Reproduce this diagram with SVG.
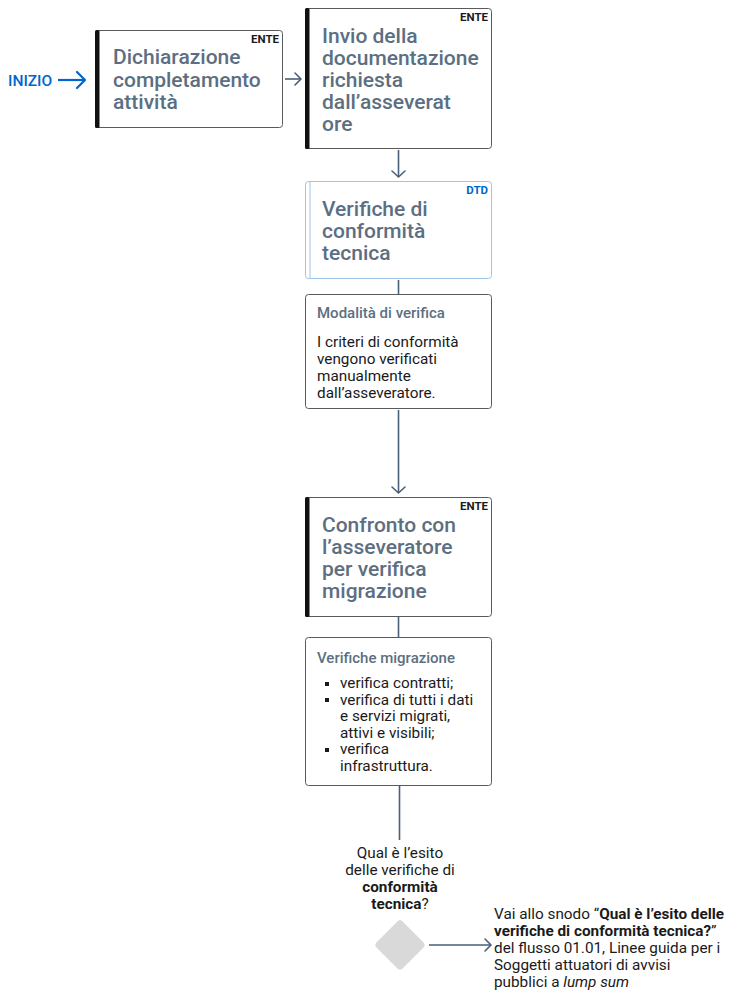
<svg xmlns="http://www.w3.org/2000/svg" width="732" height="992" viewBox="0 0 732 992">
<defs>
<style>
.box{fill:#fff;stroke:#5a5a5a;stroke-width:1}
.bar{fill:#111}
.title{font-family:Roboto,"Liberation Sans",sans-serif;font-size:21px;font-weight:500;fill:#5c6f82}
.tag{font-family:Roboto,"Liberation Sans",sans-serif;font-size:11.5px;font-weight:700;fill:#1a1a1a}
.head{font-family:Roboto,"Liberation Sans",sans-serif;font-size:15px;font-weight:500;fill:#5c6f82}
.body{font-family:Roboto,"Liberation Sans",sans-serif;font-size:15.3px;fill:#1a1a1a}
.conn{stroke:#4a5f78;stroke-width:1.6;fill:none}
.head-ar{stroke:#4a5f78;stroke-width:1.6;fill:none;stroke-linecap:round;stroke-linejoin:round}
</style>
</defs>

<g id="start">
<text x="8" y="86" font-family="Roboto,'Liberation Sans',sans-serif" font-size="15.5px" font-weight="500" fill="#0066cc">INIZIO</text>
<line x1="58" y1="80" x2="85" y2="80" stroke="#0066cc" stroke-width="2.2"/>
<polyline points="77,72 85,80 77,88" fill="none" stroke="#0066cc" stroke-width="2.2" stroke-linecap="round" stroke-linejoin="round"/>
</g>

<g id="connectors">
<line class="conn" x1="285" y1="79" x2="301" y2="79"/>
<polyline class="head-ar" points="295,73 301,79 295,85"/>
<line class="conn" x1="398.5" y1="150" x2="398.5" y2="177"/>
<polyline class="head-ar" points="392,171 398.5,177 405,171"/>
<line class="conn" x1="398.5" y1="280" x2="398.5" y2="294"/>
<line class="conn" x1="398.5" y1="410" x2="398.5" y2="493"/>
<polyline class="head-ar" points="392,487 398.5,493 405,487"/>
<line class="conn" x1="398.5" y1="617" x2="398.5" y2="637"/>
<line class="conn" x1="399.5" y1="786" x2="399.5" y2="840"/>
<line class="conn" x1="429" y1="945" x2="491" y2="945"/>
<polyline class="head-ar" points="485,939 491,945 485,951"/>
</g>

<g id="n1">
<rect class="box" x="95.5" y="30.5" width="187" height="97" rx="3"/>
<rect class="bar" x="95" y="30" width="4.5" height="98" rx="1.5"/>
<text class="tag" x="279" y="43" text-anchor="end">ENTE</text>
<text class="title" x="113" y="64">Dichiarazione</text>
<text class="title" x="113" y="87">completamento</text>
<text class="title" x="113" y="109">attività</text>
</g>

<g id="n2">
<rect class="box" x="305.5" y="8.5" width="186" height="140" rx="3"/>
<rect class="bar" x="305" y="8" width="4.5" height="141" rx="1.5"/>
<text class="tag" x="488" y="21" text-anchor="end">ENTE</text>
<text class="title" x="322" y="43">Invio della</text>
<text class="title" x="322" y="65">documentazione</text>
<text class="title" x="322" y="87">richiesta</text>
<text class="title" x="322" y="109">dall’asseverat</text>
<text class="title" x="322" y="131">ore</text>
</g>

<g id="n3">
<rect x="305.5" y="181.5" width="186" height="97" rx="3" fill="#fff" stroke="#9fc3ea" stroke-width="1"/>
<line x1="310" y1="182" x2="310" y2="278" stroke="#9fc3ea" stroke-width="1"/>
<text class="tag" x="488" y="194" text-anchor="end" style="fill:#0066cc">DTD</text>
<text class="title" x="322" y="216">Verifiche di</text>
<text class="title" x="322" y="238">conformità</text>
<text class="title" x="322" y="260">tecnica</text>
</g>

<g id="n4">
<rect class="box" x="305.5" y="294.5" width="186" height="114" rx="3"/>
<text class="head" x="317" y="318">Modalità di verifica</text>
<text class="body" x="317" y="347">I criteri di conformità</text>
<text class="body" x="317" y="364">vengono verificati</text>
<text class="body" x="317" y="381">manualmente</text>
<text class="body" x="317" y="398">dall’asseveratore.</text>
</g>

<g id="n5">
<rect class="box" x="305.5" y="497.5" width="186" height="119" rx="3"/>
<rect class="bar" x="305" y="497" width="4.5" height="120" rx="1.5"/>
<text class="tag" x="488" y="510" text-anchor="end">ENTE</text>
<text class="title" x="322" y="532">Confronto con</text>
<text class="title" x="322" y="554">l’asseveratore</text>
<text class="title" x="322" y="576">per verifica</text>
<text class="title" x="322" y="598">migrazione</text>
</g>

<g id="n6">
<rect class="box" x="305.5" y="637.5" width="186" height="148" rx="3"/>
<text class="head" x="317" y="663">Verifiche migrazione</text>
<rect x="325" y="682" width="4" height="4" fill="#1a1a1a"/>
<rect x="325" y="698" width="4" height="4" fill="#1a1a1a"/>
<rect x="325" y="748" width="4" height="4" fill="#1a1a1a"/>
<text class="body" x="340" y="688">verifica contratti;</text>
<text class="body" x="340" y="704.5">verifica di tutti i dati</text>
<text class="body" x="340" y="721">e servizi migrati,</text>
<text class="body" x="340" y="737.5">attivi e visibili;</text>
<text class="body" x="340" y="754">verifica</text>
<text class="body" x="340" y="770.5">infrastruttura.</text>
</g>

<g id="decision">
<text class="body" x="400" y="858" text-anchor="middle">Qual è l’esito</text>
<text class="body" x="400" y="875" text-anchor="middle">delle verifiche di</text>
<text class="body" x="400" y="892" text-anchor="middle" font-weight="700">conformità</text>
<text class="body" x="400" y="909" text-anchor="middle"><tspan font-weight="700">tecnica</tspan>?</text>
<rect x="381.5" y="926.5" width="37" height="37" rx="4" fill="#d9d9d9" transform="rotate(45 400 945)"/>
</g>

<g id="link">
<text class="body" x="494" y="919">Vai allo snodo “<tspan font-weight="700">Qual è l’esito delle</tspan></text>
<text class="body" x="494" y="936"><tspan font-weight="700">verifiche di conformità tecnica?</tspan>”</text>
<text class="body" x="494" y="953">del flusso 01.01, Linee guida per i</text>
<text class="body" x="494" y="970">Soggetti attuatori di avvisi</text>
<text class="body" x="494" y="987">pubblici a <tspan font-style="italic">lump sum</tspan></text>
</g>
</svg>
